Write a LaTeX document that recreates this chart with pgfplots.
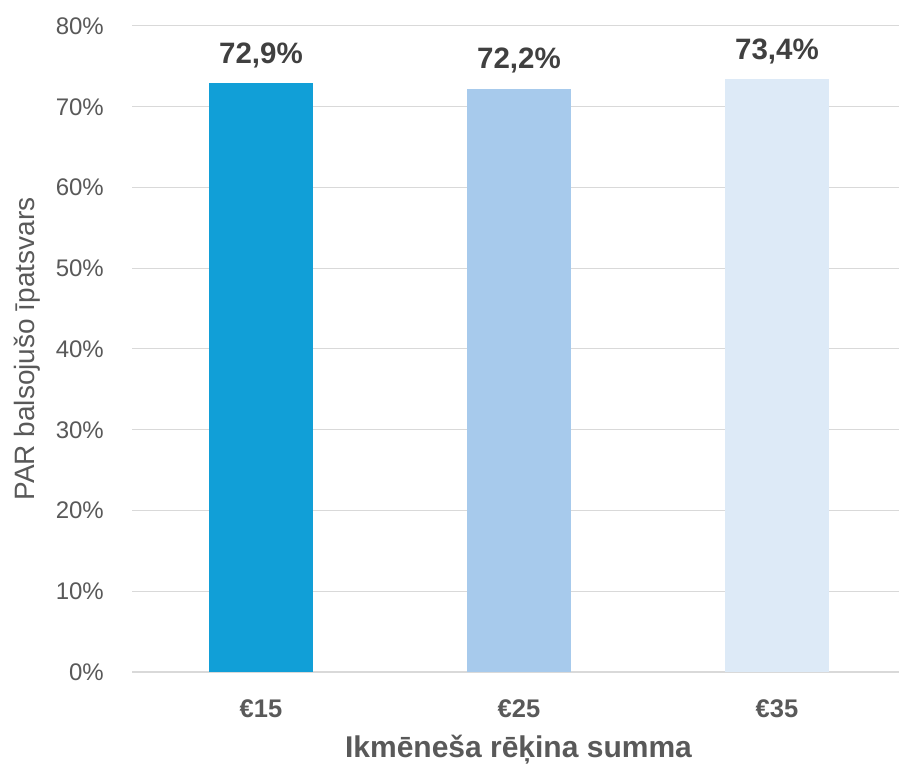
\documentclass[border=0pt]{standalone}
\usepackage{fontspec}
\setmainfont{Liberation Sans}
\usepackage{pgfplots}
\pgfplotsset{compat=1.18}
\definecolor{barA}{HTML}{119FD7}
\definecolor{barB}{HTML}{A7CAEC}
\definecolor{barC}{HTML}{DDEAF7}
\definecolor{txt}{HTML}{595959}
\definecolor{lbl}{HTML}{404040}
\definecolor{gridc}{HTML}{D9D9D9}
\begin{document}
\begin{tikzpicture}[x=1pt,y=1pt]
\useasboundingbox (0,0) rectangle (899,766);
\begin{axis}[
  at={(132pt,94pt)}, anchor=south west,
  scale only axis, width=767pt, height=646pt,
  xmin=-0.5, xmax=2.473, ymin=0, ymax=80,
  axis x line*=bottom, axis y line*=left,
  y axis line style={draw=none},
  x axis line style={draw=gridc, line width=1.2pt},
  xtick={0,1,2}, xticklabels={€15,€25,€35},
  ytick={0,10,...,80},
  yticklabel={\pgfmathprintnumber{\tick}\%},
  /pgf/number format/assume math mode=true,
  major tick length=0pt,
  ymajorgrids, grid style={draw=gridc, line width=1pt},
  yticklabel style={font=\fontsize{24}{27}\selectfont, text=txt, anchor=east, inner sep=0pt, xshift=-28pt},
  xticklabel style={font=\fontsize{25.5}{28}\selectfont\bfseries, text=txt, anchor=base, inner sep=0pt, yshift=-45pt},
  ybar, bar width=104pt, bar shift=0pt,
  nodes near coords={\pgfmathprintnumber[fixed, fixed zerofill, precision=1, use comma]{\pgfplotspointmeta}\%},
  nodes near coords style={font=\fontsize{29.5}{32}\selectfont\bfseries, text=lbl, anchor=base, inner sep=0pt, yshift=20pt},
  clip=false,
]
\addplot[fill=barA, draw=none] coordinates {(0,72.9)};
\addplot[fill=barB, draw=none] coordinates {(1,72.2)};
\addplot[fill=barC, draw=none] coordinates {(2,73.4)};
\end{axis}
\node[font=\fontsize{28}{31}\selectfont, text=txt, rotate=90] at (27,417) {PAR balsojušo īpatsvars};
\node[font=\fontsize{30}{33}\selectfont\bfseries, text=txt, anchor=base, inner sep=0pt] at (518.5,9) {Ikmēneša rēķina summa};
\end{tikzpicture}
\end{document}
